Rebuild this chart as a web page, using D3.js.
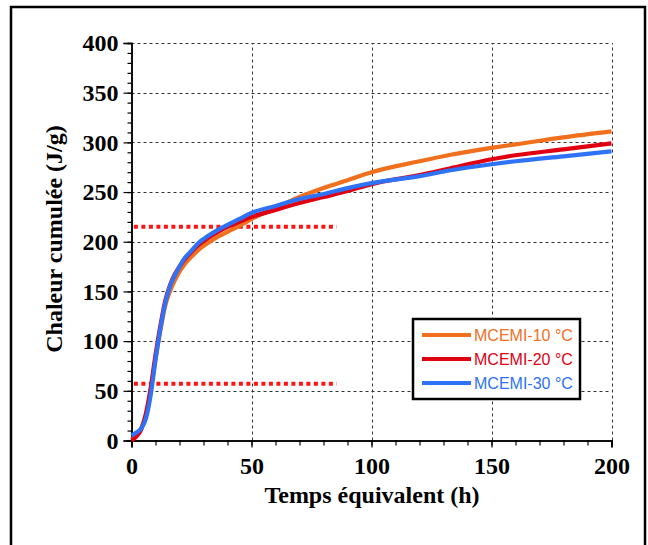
<!DOCTYPE html>
<html><head><meta charset="utf-8">
<script src="https://cdn.jsdelivr.net/npm/d3@7"></script>
<style>
html,body{margin:0;padding:0;background:#fff;}
svg{display:block;}
</style></head>
<body>
<svg id="chart" width="648" height="545"></svg>
<script>
// ---------- data ----------
const timeH = [0,2,4,6,8,10,12,14,16,18,20,22,25,28,32,36,40,45,50,60,70,80,90,100,120,133,150,160,180,200];
const mcemi10 = [1,5,12,26,50,82,110,135,150,161,170,177,185,192,199,205,210,216,223,234,245,254,262,270,281,287.5,294.5,298,305,311];
const mcemi20 = [0,4,11,27,53,86,115,140,156,167,175,182,190,197,204,210,215,220,225,232,239,245,251,258,267,274,283,287,293,299];
const mcemi30 = [5,8,12,22,46,81,112,138,155,166,175,183,191,199,206,212,217,223,229,236,243,248,254,259,266,272,278,281,286,291];
const seriesNames = ["MCEMI-10 °C","MCEMI-20 °C","MCEMI-30 °C"];
const seriesColors = ["#F0701E","#E00012","#2E72F8"];
const refLevels = [215, 57];
const refRange = [1, 85.5];
const xTicks = [0,50,100,150,200];
const yTicks = [0,50,100,150,200,250,300,350,400];
const xTitle = "Temps équivalent (h)";
const yTitle = "Chaleur cumulée (J/g)";

// ---------- layout ----------
const svg = d3.select("#chart");
const pL = 131.5, pR = 611.5, pT = 43, pB = 440.5;
const x = d3.scaleLinear().domain([0,200]).range([pL,pR]);
const y = d3.scaleLinear().domain([0,400]).range([pB,pT]);

// outer frame
svg.append("rect").attr("x",11).attr("y",7).attr("width",634).attr("height",600)
  .attr("fill","none").attr("stroke","#000").attr("stroke-width",2.5);

// grid
const grid = svg.append("g").attr("stroke","#333").attr("stroke-width",1).attr("stroke-dasharray","3,3");
yTicks.filter(d=>d>0).forEach(d=>{
  grid.append("line").attr("x1",pL).attr("x2",pR).attr("y1",Math.round(y(d))+0.5).attr("y2",Math.round(y(d))+0.5);
});
xTicks.filter(d=>d>0).forEach(d=>{
  grid.append("line").attr("y1",pB).attr("y2",pT).attr("x1",Math.round(x(d))+0.5).attr("x2",Math.round(x(d))+0.5);
});

// axes
const fontSerif = "'Liberation Serif','Times New Roman',serif";
const xAxis = d3.axisBottom(x).tickValues(xTicks).tickSize(7).tickPadding(9).tickFormat(d3.format("d"));
const xMinor = d3.axisBottom(x).tickValues(d3.range(0,201,10)).tickSize(5).tickFormat("");
const yAxis = d3.axisLeft(y).tickValues(yTicks).tickSize(8).tickPadding(5).tickFormat(d3.format("d"));
const yMinor = d3.axisLeft(y).tickValues(d3.range(0,401,10)).tickSize(4).tickFormat("");

function styleAxis(g){
  g.select(".domain").attr("stroke","#000").attr("stroke-width",1.5);
  g.selectAll(".tick line").attr("stroke","#000").attr("stroke-width",1.2);
  g.selectAll("text").attr("fill","#000").attr("font-family",fontSerif)
    .attr("font-weight","bold").attr("font-size",24);
}
svg.append("g").attr("transform",`translate(0,${pB})`).call(xMinor).call(styleAxis);
svg.append("g").attr("transform",`translate(0,${pB})`).call(xAxis).call(styleAxis);
svg.append("g").attr("transform",`translate(${pL},0)`).call(yMinor).call(styleAxis);
svg.append("g").attr("transform",`translate(${pL},0)`).call(yAxis).call(styleAxis);

// axis titles
svg.append("text").attr("x",372).attr("y",503).attr("text-anchor","middle")
  .attr("font-family",fontSerif).attr("font-weight","bold").attr("font-size",24).text(xTitle);
svg.append("text").attr("transform",`translate(62,239) rotate(-90)`).attr("text-anchor","middle")
  .attr("font-family",fontSerif).attr("font-weight","bold").attr("font-size",24).text(yTitle);

// reference dotted lines
refLevels.forEach(v=>{
  svg.append("line").attr("x1",x(refRange[0])).attr("x2",x(refRange[1])).attr("y1",y(v)).attr("y2",y(v))
    .attr("stroke","#FF1414").attr("stroke-width",4).attr("stroke-dasharray","4,3.5");
});

// curves
const line = d3.line().x((d,i)=>x(timeH[i])).y(d=>y(d)).curve(d3.curveMonotoneX);
[mcemi10, mcemi20, mcemi30].forEach((s,k)=>{
  svg.append("path").datum(s).attr("d",line).attr("fill","none")
    .attr("stroke",seriesColors[k]).attr("stroke-width",4.2).attr("stroke-linejoin","round");
});

// legend
const lg = svg.append("g");
lg.append("rect").attr("x",413).attr("y",319).attr("width",167).attr("height",80)
  .attr("fill","#fff").attr("stroke","#000").attr("stroke-width",2.5);
seriesNames.forEach((n,i)=>{
  const yy = 335 + i*24;
  lg.append("line").attr("x1",422).attr("x2",471).attr("y1",yy).attr("y2",yy)
    .attr("stroke",seriesColors[i]).attr("stroke-width",4);
  lg.append("text").attr("x",474).attr("y",yy+6).attr("font-family","'Liberation Sans',Arial,sans-serif")
    .attr("font-size",16).attr("fill",seriesColors[i]).text(n);
});
</script>
</body></html>
